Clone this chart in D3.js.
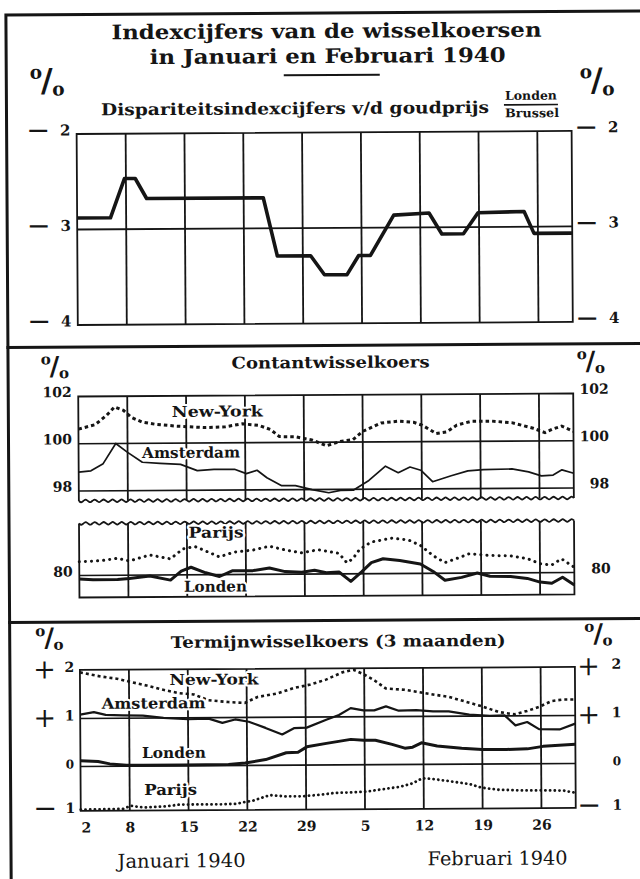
<!DOCTYPE html>
<html>
<head>
<meta charset="utf-8">
<script src="https://cdn.jsdelivr.net/npm/d3@7"></script>
<style>
html, body { margin: 0; padding: 0; background: #fff; }
svg { display: block; }
</style>
</head>
<body>
<svg id="chart" width="640" height="879"></svg>
<script>
// ---------------- DATA (x = trading-day index from 2 Jan 1940) ----------------
const tickIdx    = [0, 5, 11, 17, 23, 29, 35, 41, 47];
const tickLabels = ["2", "8", "15", "22", "29", "5", "12", "19", "26"];
const monthLabels = ["Januari 1940", "Februari 1940"];

// Panel 1: Dispariteitsindexcijfers v/d goudprijs Londen/Brussel (%)
const goudX = [0, 3.4, 4.85, 5.95, 7.1, 19.0, 20.4, 23.8, 25.2, 27.5, 28.7, 29.9, 32.3, 35.9, 37.2, 39.4, 40.9, 45.6, 46.6, 50.5];
const goud  = [2.88, 2.88, 2.47, 2.47, 2.68, 2.68, 3.29, 3.29, 3.49, 3.49, 3.29, 3.29, 2.87, 2.85, 3.07, 3.07, 2.85, 2.84, 3.07, 3.07];
const goudRef = 3;
const goudTicks = [2, 3, 4];

// Panel 2: Contantwisselkoers (%)
const nyContantX = [0, 1.7, 2.9, 3.7, 4.6, 5.4, 6.5, 7.9, 10.0, 12.9, 15.0, 16.7, 18.4, 19.6, 20.5, 22.1, 23.8, 25.3, 26.7, 28.0, 29.0, 30.9, 32.6, 34.2, 35.1, 36.5, 37.6, 38.6, 40.1, 42.2, 44.2, 46.3, 47.6, 48.4, 49.3, 50.5];
const nyContant  = [100.62, 100.8, 101.2, 101.55, 101.4, 101.1, 100.9, 100.8, 100.72, 100.65, 100.68, 100.8, 100.73, 100.55, 100.25, 100.24, 100.1, 99.85, 100.03, 100.1, 100.45, 100.8, 100.87, 100.82, 100.69, 100.34, 100.41, 100.69, 100.85, 100.85, 100.78, 100.55, 100.35, 100.5, 100.62, 100.4];
const amContantX = [0, 1.25, 2.5, 3.8, 5.0, 6.5, 8.3, 10.4, 12.1, 13.8, 15.9, 17.1, 18.2, 19.2, 20.7, 22.1, 23.8, 25.5, 26.7, 28.0, 29.6, 31.3, 32.6, 33.8, 34.9, 36.1, 38.0, 39.7, 41.3, 44.2, 45.9, 47.2, 48.4, 49.3, 50.5];
const amContant  = [98.8, 98.85, 99.15, 100.0, 99.62, 99.2, 99.15, 99.1, 98.83, 98.88, 98.88, 98.69, 98.83, 98.51, 98.17, 98.17, 98.0, 97.86, 97.96, 97.96, 98.37, 98.97, 98.69, 98.93, 98.79, 98.3, 98.55, 98.75, 98.8, 98.82, 98.69, 98.52, 98.55, 98.77, 98.62];
const paContantX = [0, 2.2, 3.9, 5.1, 7.2, 9.3, 10.6, 11.8, 13.1, 14.3, 15.8, 17.7, 19.4, 21.0, 22.7, 24.4, 26.5, 27.3, 27.9, 28.6, 29.8, 31.9, 33.6, 34.8, 36.1, 37.3, 38.5, 39.8, 41.9, 44.0, 45.7, 47.0, 48.2, 49.2, 50.5];
const paContant  = [80.58, 80.62, 80.72, 80.6, 80.85, 80.68, 81.1, 81.2, 80.97, 80.75, 80.95, 81.03, 81.19, 81.03, 80.9, 81.03, 80.87, 80.47, 80.63, 81.03, 81.34, 81.5, 81.42, 81.19, 80.75, 80.45, 80.62, 80.82, 80.74, 80.72, 80.6, 80.38, 80.32, 80.58, 80.22];
const loContantX = [0, 1.4, 3.9, 5.1, 7.2, 9.3, 10.4, 11.4, 12.9, 14.3, 15.6, 17.7, 19.4, 21.0, 22.7, 24.0, 25.2, 26.5, 27.7, 28.8, 29.8, 31.0, 32.7, 34.8, 36.1, 37.3, 39.0, 40.6, 41.9, 44.0, 45.7, 47.0, 48.2, 49.3, 50.5];
const loContant  = [79.85, 79.82, 79.82, 79.86, 79.96, 79.78, 80.16, 80.32, 80.08, 79.92, 80.16, 80.16, 80.27, 80.11, 80.08, 80.16, 80.05, 80.08, 79.68, 80.08, 80.47, 80.63, 80.55, 80.4, 80.08, 79.7, 79.82, 80.0, 79.86, 79.84, 79.76, 79.6, 79.55, 79.8, 79.47];
const contantTicksUpper = [102, 100, 98];
const contantTicksLower = [80];

// Panel 3: Termijnwisselkoers (3 maanden) (%)
const nyTermijnX = [0, 2.2, 3.9, 5.1, 6.8, 8.5, 10.1, 11.6, 13.1, 15.1, 16.8, 18.1, 20.1, 21.8, 23.5, 25.1, 26.8, 27.9, 28.9, 30.1, 31.2, 33.1, 34.3, 36.0, 37.6, 39.3, 41.0, 42.7, 44.3, 45.6, 46.8, 48.1, 49.3, 50.5];
const nyTermijn  = [1.95, 1.86, 1.81, 1.75, 1.67, 1.58, 1.51, 1.48, 1.36, 1.32, 1.3, 1.42, 1.49, 1.6, 1.67, 1.77, 1.92, 1.97, 1.88, 1.74, 1.58, 1.55, 1.51, 1.45, 1.4, 1.3, 1.2, 1.08, 1.03, 1.1, 1.18, 1.3, 1.33, 1.33];
const amTermijnX = [0, 1.4, 2.6, 4.3, 6.4, 8.5, 11.0, 13.1, 14.5, 15.8, 17.2, 18.9, 20.6, 21.8, 23.1, 25.1, 26.4, 27.6, 28.9, 30.0, 31.2, 32.5, 34.3, 36.0, 37.6, 39.7, 41.8, 43.3, 44.4, 45.6, 46.8, 48.9, 50.5];
const amTermijn  = [1.08, 1.13, 1.07, 1.06, 1.05, 1.0, 0.97, 0.98, 0.89, 0.96, 0.91, 0.78, 0.64, 0.77, 0.78, 0.94, 1.04, 1.18, 1.13, 1.13, 1.21, 1.12, 1.13, 1.1, 1.1, 1.03, 1.0, 1.01, 0.8, 0.87, 0.72, 0.71, 0.83];
const loTermijnX = [0, 1.8, 3.0, 4.7, 6.4, 10.5, 15.1, 16.8, 18.9, 21.0, 22.2, 23.1, 25.1, 27.6, 28.9, 30.1, 31.8, 33.1, 33.9, 34.8, 36.4, 38.9, 41.0, 43.5, 45.6, 47.2, 50.5];
const loTermijn  = [0.12, 0.1, 0.05, 0.02, 0.02, 0.02, 0.02, 0.05, 0.12, 0.26, 0.27, 0.38, 0.45, 0.53, 0.51, 0.51, 0.42, 0.34, 0.36, 0.45, 0.38, 0.33, 0.3, 0.3, 0.31, 0.36, 0.4];
const paTermijnX = [0, 4.3, 5.1, 6.4, 8.5, 10.1, 14.3, 15.9, 16.8, 17.6, 19.3, 20.9, 22.6, 24.3, 25.9, 27.6, 29.3, 30.9, 32.6, 33.8, 34.9, 35.9, 37.6, 39.7, 40.9, 42.6, 45.1, 47.2, 49.3, 50.5];
const paTermijn  = [-0.97, -0.96, -0.89, -0.93, -0.91, -0.87, -0.87, -0.86, -0.82, -0.79, -0.67, -0.7, -0.7, -0.67, -0.63, -0.62, -0.6, -0.55, -0.5, -0.43, -0.31, -0.33, -0.38, -0.45, -0.53, -0.58, -0.6, -0.6, -0.61, -0.66];
const termijnTicks = [2, 1, 0, -1];
const termijnTickText = ["2", "1", "0", "1"];
const termijnTickSign = ["+", "+", "", "—"];

// ---------------- DRAWING ----------------
const zip = (xs, ys) => xs.map((d, i) => [d, ys[i]]);
const INK = "#151515";
const F = "'DejaVu Serif', serif";

const svg = d3.select("#chart");
svg.append("rect").attr("width", 640).attr("height", 879).attr("fill", "#fff");
const g = svg.append("g").attr("transform", "rotate(-0.35 320 440)");

function T(parent, x, y, s, o = {}) {
  const t = parent.append("text").attr("x", x).attr("y", y).text(s)
    .attr("font-family", F).attr("font-size", o.size || 15)
    .attr("font-weight", o.weight || "bold").attr("fill", INK)
    .attr("text-anchor", o.anchor || "start");
  if (o.len) t.attr("textLength", o.len).attr("lengthAdjust", "spacingAndGlyphs");
  if (o.halo) t.attr("stroke", "#fff").attr("stroke-width", o.halo)
    .attr("paint-order", "stroke").attr("stroke-linejoin", "round");
  return t;
}
function L(parent, x1, y1, x2, y2, w) {
  return parent.append("line").attr("x1", x1).attr("y1", y1).attr("x2", x2).attr("y2", y2)
    .attr("stroke", INK).attr("stroke-width", w);
}
function pct(x0, y0, h) {
  const p = g.append("g");
  T(p, x0 + 0.16 * h, y0 + 0.42 * h, "o", { size: 0.58 * h, anchor: "middle" });
  T(p, x0 + 0.5 * h, y0 + 0.82 * h, "/", { size: 1.0 * h, anchor: "middle" });
  T(p, x0 + 0.86 * h, y0 + 0.95 * h, "o", { size: 0.58 * h, anchor: "middle" });
}
function wavy(x0, x1, y, amp, period) {
  const pts = [];
  for (let t = x0; t <= x1 + 0.01; t += period / 4) pts.push([t, y + amp * Math.sin((t - x0) / period * 2 * Math.PI)]);
  return d3.line().curve(d3.curveCardinal)(pts);
}

const x = d3.scaleLinear().domain([0, 50.5]).range([78.5, 573.5]);
const X0 = x(0), X1 = x(50.5);

// frame + separators
g.append("path").attr("d", "M8.5,895 V13 H660").attr("fill", "none").attr("stroke", INK).attr("stroke-width", 3);
L(g, 7, 345.5, 660, 345.5, 3);
L(g, 7, 620.5, 660, 620.5, 3);

// titles
T(g, 329, 38, "Indexcijfers van de wisselkoersen", { size: 20, anchor: "middle", len: 430 });
T(g, 330, 63, "in Januari en Februari 1940", { size: 20, anchor: "middle", len: 356 });
L(g, 286, 75, 382, 75, 2);

// ---------- Panel 1 ----------
const y1 = d3.scaleLinear().domain([2, 4]).range([132.5, 323.5]);
T(g, 103, 114, "Dispariteitsindexcijfers v/d goudprijs", { size: 16.5, len: 388 });
T(g, 533, 101, "Londen", { size: 12, anchor: "middle", len: 52 });
L(g, 506, 106, 560, 106, 1.6);
T(g, 534, 118.5, "Brussel", { size: 12, anchor: "middle", len: 54 });
pct(33, 63.5, 32);
pct(583, 66.5, 32);

const p1 = g.append("g");
p1.append("rect").attr("x", X0).attr("y", y1(2)).attr("width", X1 - X0).attr("height", y1(4) - y1(2))
  .attr("fill", "none").attr("stroke", INK).attr("stroke-width", 1.8);
p1.selectAll("line.grid").data(tickIdx.slice(1)).join("line").attr("class", "grid")
  .attr("x1", d => x(d)).attr("x2", d => x(d)).attr("y1", y1(2)).attr("y2", y1(4))
  .attr("stroke", INK).attr("stroke-width", 1.8);
L(p1, X0, y1(goudRef), X1, y1(goudRef), 1.8);
p1.append("path").attr("d", d3.line().x(d => x(d[0])).y(d => y1(d[1]))(zip(goudX, goud)))
  .attr("fill", "none").attr("stroke", INK).attr("stroke-width", 3.6).attr("stroke-linejoin", "round");
goudTicks.forEach(v => {
  const yy = y1(v) - 4;
  T(p1, 40, yy + 6, "—", { size: 20, anchor: "middle" });
  T(p1, 67, yy + 5.4, String(v), { size: 15, anchor: "middle" });
  T(p1, 588, yy + 6, "—", { size: 20, anchor: "middle" });
  T(p1, 615, yy + 5.4, String(v), { size: 15, anchor: "middle" });
});

// ---------- Panel 2 ----------
const y2a = d3.scaleLinear().domain([98, 102]).range([489.5, 395]);
const y2b = d3.scaleLinear().domain([80, 82]).range([574, 526.8]);
const upBot = 499.5, loTop = 522, loBot = 596;
T(g, 331, 368, "Contantwisselkoers", { size: 16, anchor: "middle", len: 198 });
pct(42, 352, 26);
pct(578, 350, 26);

const p2 = g.append("g");
p2.append("path").attr("d", `M${X0},${upBot} V${y2a(102)} H${X1} V${upBot}`).attr("fill", "none").attr("stroke", INK).attr("stroke-width", 1.8);
p2.append("path").attr("d", wavy(X0, X1, upBot, 1.3, 9)).attr("fill", "none").attr("stroke", INK).attr("stroke-width", 1.8);
p2.selectAll("line.grida").data(tickIdx.slice(1)).join("line").attr("class", "grida")
  .attr("x1", d => x(d)).attr("x2", d => x(d)).attr("y1", y2a(102)).attr("y2", upBot)
  .attr("stroke", INK).attr("stroke-width", 1.8);
L(p2, X0, y2a(100), X1, y2a(100), 1.6);
L(p2, X0, y2a(98), X1, y2a(98), 1.6);
p2.append("path").attr("d", `M${X0},${loTop} V${loBot} H${X1} V${loTop}`).attr("fill", "none").attr("stroke", INK).attr("stroke-width", 1.8);
p2.append("path").attr("d", wavy(X0, X1, loTop, 1.3, 9)).attr("fill", "none").attr("stroke", INK).attr("stroke-width", 1.8);
p2.selectAll("line.gridb").data(tickIdx.slice(1)).join("line").attr("class", "gridb")
  .attr("x1", d => x(d)).attr("x2", d => x(d)).attr("y1", loTop).attr("y2", loBot)
  .attr("stroke", INK).attr("stroke-width", 1.8);
L(p2, X0, y2b(80), X1, y2b(80), 1.6);

const lineA = d3.line().x(d => x(d[0])).y(d => y2a(d[1]));
const lineB = d3.line().x(d => x(d[0])).y(d => y2b(d[1]));
p2.append("path").attr("d", lineA(zip(nyContantX, nyContant))).attr("fill", "none").attr("stroke", INK)
  .attr("stroke-width", 3).attr("stroke-dasharray", "3.5,3");
p2.append("path").attr("d", lineA(zip(amContantX, amContant))).attr("fill", "none").attr("stroke", INK)
  .attr("stroke-width", 1.7).attr("stroke-linejoin", "round");
p2.append("path").attr("d", lineB(zip(paContantX, paContant))).attr("fill", "none").attr("stroke", INK)
  .attr("stroke-width", 3).attr("stroke-linecap", "round").attr("stroke-dasharray", "0.1,6");
p2.append("path").attr("d", lineB(zip(loContantX, loContant))).attr("fill", "none").attr("stroke", INK)
  .attr("stroke-width", 3).attr("stroke-linejoin", "round");

contantTicksUpper.forEach(v => {
  T(p2, 72, y2a(v) + 0.5, String(v), { size: 14, anchor: "end" });
  T(p2, 609, y2a(v) + 0.5, String(v), { size: 14, anchor: "end" });
});
contantTicksLower.forEach(v => {
  T(p2, 72, y2b(v) + 1, String(v), { size: 14, anchor: "end" });
  T(p2, 610, y2b(v) + 1, String(v), { size: 14, anchor: "end" });
});
T(p2, 172, 416, "New-York", { size: 15, len: 91, halo: 4 });
T(p2, 142, 457, "Amsterdam", { size: 15, len: 98, halo: 4 });
T(p2, 188, 537, "Parijs", { size: 15, len: 55, halo: 4 });
T(p2, 183, 591, "Londen", { size: 15, len: 63, halo: 4 });

// ---------- Panel 3 ----------
const y3 = d3.scaleLinear().domain([-1, 0, 1, 2]).range([809.5, 765, 717, 668.5]);
T(g, 337, 647, "Termijnwisselkoers (3 maanden)", { size: 16, anchor: "middle", len: 335 });
pct(35, 623.5, 26);
pct(584, 622.5, 26);

const p3 = g.append("g");
p3.append("rect").attr("x", X0).attr("y", y3(2)).attr("width", X1 - X0).attr("height", y3(-1) - y3(2))
  .attr("fill", "none").attr("stroke", INK).attr("stroke-width", 1.8);
p3.selectAll("line.grid").data(tickIdx.slice(1)).join("line").attr("class", "grid")
  .attr("x1", d => x(d)).attr("x2", d => x(d)).attr("y1", y3(2)).attr("y2", y3(-1))
  .attr("stroke", INK).attr("stroke-width", 1.8);
L(p3, X0, y3(1), X1, y3(1), 1.6);
L(p3, X0, y3(0), X1, y3(0), 1.6);

const line3 = d3.line().x(d => x(d[0])).y(d => y3(d[1]));
p3.append("path").attr("d", line3(zip(nyTermijnX, nyTermijn))).attr("fill", "none").attr("stroke", INK)
  .attr("stroke-width", 2.6).attr("stroke-dasharray", "3,3");
p3.append("path").attr("d", line3(zip(amTermijnX, amTermijn))).attr("fill", "none").attr("stroke", INK)
  .attr("stroke-width", 2.2).attr("stroke-linejoin", "round");
p3.append("path").attr("d", line3(zip(loTermijnX, loTermijn))).attr("fill", "none").attr("stroke", INK)
  .attr("stroke-width", 3).attr("stroke-linejoin", "round");
p3.append("path").attr("d", line3(zip(paTermijnX, paTermijn))).attr("fill", "none").attr("stroke", INK)
  .attr("stroke-width", 2.8).attr("stroke-linecap", "round").attr("stroke-dasharray", "0.1,4.6");

termijnTicks.forEach((v, i) => {
  const s = termijnTickSign[i];
  const yy = y3(v) - (s === "+" ? 1.5 : 3);
  if (s === "+") {
    T(p3, 43, yy + 0.36 * 27, "+", { size: 27, weight: "normal", anchor: "middle" });
    T(p3, 587, yy + 0.36 * 27, "+", { size: 27, weight: "normal", anchor: "middle" });
  } else if (s) {
    T(p3, 43, yy + 6, s, { size: 20, anchor: "middle" });
    T(p3, 587, yy + 6, s, { size: 20, anchor: "middle" });
  }
  const ty = y3(v) - 3;
  T(p3, 68, ty + 5, termijnTickText[i], { size: v === 0 ? 12 : 14, anchor: "middle" });
  T(p3, 615, ty + 5, termijnTickText[i], { size: v === 0 ? 12 : 14, anchor: "middle" });
});
T(p3, 168, 684, "New-York", { size: 15, len: 89, halo: 4 });
T(p3, 100, 707.5, "Amsterdam", { size: 15, len: 104, halo: 4 });
T(p3, 140, 757, "Londen", { size: 15, len: 64, halo: 4 });
T(p3, 142, 794, "Parijs", { size: 15, len: 53, halo: 4 });

// x axis (day labels)
const xAxis = d3.axisBottom(x).tickValues(tickIdx).tickSize(0).tickPadding(0)
  .tickFormat((d, i) => tickLabels[i]);
const ax = g.append("g").attr("transform", "translate(0,821)").call(xAxis);
ax.select(".domain").remove();
ax.selectAll("text").attr("font-family", F).attr("font-size", 14).attr("font-weight", "bold")
  .attr("fill", INK).attr("dy", "0.71em")
  .attr("dx", (d, i) => i === 0 ? 5 : 0);

T(g, 179, 866.5, monthLabels[0], { size: 19, weight: "normal", anchor: "middle", len: 128 });
T(g, 495, 866, monthLabels[1], { size: 19, weight: "normal", anchor: "middle", len: 140 });
</script>
</body>
</html>
